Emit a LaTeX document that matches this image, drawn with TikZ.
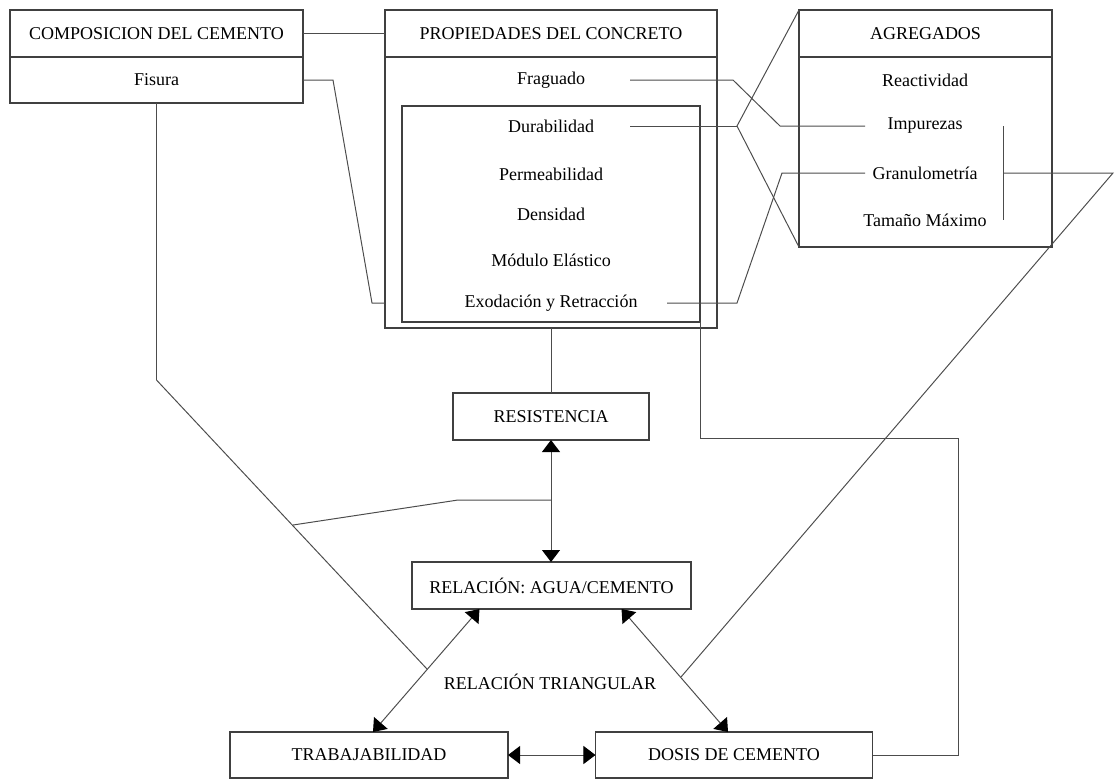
\documentclass[tikz,border=0pt]{standalone}
\usepackage{fontspec}
\setmainfont{Liberation Serif}
\usetikzlibrary{arrows.meta}

\begin{document}
\begin{tikzpicture}[x=0.025cm,y=-0.025cm,
    font=\fontsize{12.8}{15}\selectfont,
    caja/.style={draw=black!75,line width=0.9pt,inner sep=0pt,outer sep=0pt,minimum height=1.175cm},
    texto/.style={inner sep=1pt},
    linea/.style={draw=black!70,line width=0.7pt},
    flecha/.style={linea,{Triangle[width=0.45cm,length=0.3cm,color=black]}-{Triangle[width=0.45cm,length=0.3cm,color=black]}}]
    \useasboundingbox (0,0) rectangle (1115,779) ;
    \node[caja,minimum width=7.325cm] (comptit) at (156.5,33.5) {COMPOSICION DEL CEMENTO} ;
    \node[caja,minimum width=7.325cm,minimum height=1.15cm] (compbox) at (156.5,80) {Fisura} ;
    \node[caja,minimum width=8.3cm] (proptit) at (551,33.5) {PROPIEDADES DEL CONCRETO} ;
    \node[caja,minimum width=8.3cm,minimum height=6.775cm] (propbox) at (551,192.5) {} ;
    \node[caja,minimum width=7.45cm,minimum height=5.4cm] (inbox) at (551,214) {} ;
    \node[texto] (frag) at (551,80) {Fraguado} ;
    \node[texto] (dura) at (551,126) {Durabilidad} ;
    \node[texto] (perm) at (551,174) {Permeabilidad} ;
    \node[texto] (dens) at (551,214) {Densidad} ;
    \node[texto] (modu) at (551,260) {Módulo Elástico} ;
    \node[texto] (exod) at (551,303) {Exodación y Retracción} ;
    \node[caja,minimum width=6.325cm] (agtit) at (925.5,33.5) {AGREGADOS} ;
    \node[caja,minimum width=6.325cm,minimum height=4.75cm] (agbox) at (925.5,152) {} ;
    \node[texto] (reac) at (925,80) {Reactividad} ;
    \node[texto] (impu) at (925,126) {Impurezas} ;
    \node[texto] (gran) at (925,173) {Granulometría} ;
    \node[texto] (tama) at (925,220) {Tamaño Máximo} ;
    \node[caja,minimum width=4.9cm] (resi) at (551,416.5) {RESISTENCIA} ;
    \node[caja,minimum width=6.975cm] (rela) at (551.5,585.5) {RELACIÓN: AGUA/CEMENTO} ;
    \node[texto] (tria) at (550,682) {RELACIÓN TRIANGULAR} ;
    \node[caja,minimum width=6.95cm,minimum height=1.15cm] (trab) at (369,755) {TRABAJABILIDAD} ;
    \node[caja,minimum width=6.925cm,minimum height=1.15cm] (dosi) at (734,755) {DOSIS DE CEMENTO} ;
    \coordinate (fromx) at (630,0) ;
    \coordinate (exox) at (667,0) ;
    \coordinate (tox) at (865,0) ;
    \coordinate (brx) at (1003,0) ;
    \coordinate (bend) at (737,126) ;
    \coordinate (fisA) at (333,80) ;
    \coordinate (fisB) at (372,303) ;
    \coordinate (kneeL) at (156.5,380) ;
    \coordinate (junta) at (293,525) ;
    \coordinate (jn) at (458,500) ;
    \coordinate (cruceL) at (427,669) ;
    \coordinate (cruceR) at (681,677) ;
    \coordinate (esqR) at (1113,173) ;
    \coordinate (rx) at (958,438) ;
    \draw[linea] (comptit) -- (proptit) ;
    \draw[linea] (compbox.east) -- (fisA) -- (fisB) -- (fisB -| propbox.west) ;
    \draw[linea] (frag -| fromx) -- (733,80) -- (780,126) -- (impu -| tox) ;
    \draw[linea] (dura -| fromx) -- (bend) ;
    \draw[linea] (agtit.north west) -- (bend) -- (agbox.south west) ;
    \draw[linea] (exod -| exox) -- (737,303) -- (782,173) -- (gran -| tox) ;
    \draw[linea] (impu -| brx) -- (tama -| brx) ;
    \draw[linea] (gran -| brx) -- (esqR) -- (cruceR) ;
    \draw[linea] (compbox.south) -- (kneeL) -- (cruceL) ;
    \draw[linea] (junta) -- (jn) -- (resi.south |- jn) ;
    \draw[linea] (propbox.south) -- (resi.north) ;
    \draw[linea] (inbox.south east) -- (inbox.south east |- rx) -- (rx) -- (rx |- dosi.east) -- (dosi.east) ;
    \draw[flecha] (resi.south) -- (resi.south |- rela.north) ;
    \draw[flecha] ([xshift=-1.8cm]rela.south) -- ([xshift=0.1cm]trab.north) ;
    \draw[flecha] ([xshift=1.75cm]rela.south) -- ([xshift=-0.15cm]dosi.north) ;
    \draw[flecha] (trab) -- (dosi) ;
\end{tikzpicture}
\end{document}
